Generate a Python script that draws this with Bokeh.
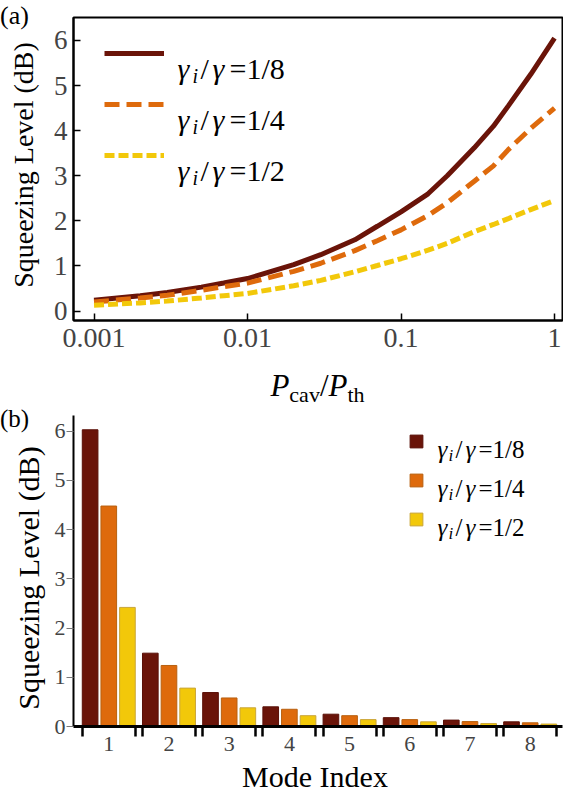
from bokeh.plotting import figure
from bokeh.models import (Range1d, FixedTicker, LinearAxis, Label, Legend, LegendItem,
                          CustomJSTickFormatter, ColumnDataSource, Div)
from bokeh.layouts import column, row
from bokeh.transform import dodge
from bokeh.embed import file_html
from bokeh.resources import INLINE

# ---------------- data ----------------
P_RATIO = [0.001, 0.002, 0.003, 0.005, 0.007, 0.01, 0.02, 0.03, 0.05, 0.07,
           0.1, 0.15, 0.2, 0.3, 0.4, 0.5, 0.7, 1.0]
SQZ_18 = [0.24, 0.34, 0.41, 0.53, 0.62, 0.72, 1.03, 1.25, 1.58, 1.88,
          2.20, 2.60, 3.00, 3.62, 4.10, 4.55, 5.25, 6.05]
SQZ_14 = [0.20, 0.29, 0.35, 0.46, 0.54, 0.62, 0.88, 1.06, 1.34, 1.56,
          1.80, 2.12, 2.40, 2.88, 3.22, 3.58, 4.05, 4.50]
SQZ_12 = [0.13, 0.18, 0.22, 0.29, 0.34, 0.39, 0.56, 0.68, 0.87, 1.01,
          1.16, 1.35, 1.50, 1.76, 1.92, 2.05, 2.25, 2.45]

X_TICKS = [0.001, 0.01, 0.1, 1.0]
X_TICK_LABELS = ["0.001", "0.01", "0.1", "1"]
Y_TICKS = [0, 1, 2, 3, 4, 5, 6]

MODES = [1, 2, 3, 4, 5, 6, 7, 8]
BAR_18 = [6.03, 1.49, 0.69, 0.40, 0.25, 0.18, 0.13, 0.095]
BAR_14 = [4.48, 1.24, 0.58, 0.35, 0.22, 0.14, 0.10, 0.075]
BAR_12 = [2.42, 0.78, 0.38, 0.22, 0.14, 0.095, 0.06, 0.05]

RATIO_LABELS = ["1/8", "1/4", "1/2"]
Y_TITLE = "Squeezing Level (dB)"
X2_TITLE = "Mode Index"

# ---------------- style ----------------
FONT = "'Liberation Serif'"
CSS_FONT = "'Liberation Serif', 'Times New Roman', serif"
C_DARK = "#6A1409"
C_ORANGE = "#DE6A0C"
C_YELLOW = "#F2C80A"
E_DARK = "#5A1008"
E_ORANGE = "#B8600F"
E_YELLOW = "#C9A53A"

W_ALL = 563
W_SIDE = 45
W_FIG = W_ALL - W_SIDE
H_TOP = 360
H_XT = 44
H_BOT = 360
H_MT = 23


def put(p, x, y, text, size, style="normal", align="left", baseline="alphabetic"):
    p.add_layout(Label(x=x, y=y, x_units="screen", y_units="screen", text=text,
                       text_font=FONT, text_font_size=f"{size}px",
                       text_font_style=style, text_align=align,
                       text_baseline=baseline, text_color="black"))


def ratio_label(p, x, y, ratio, size, sub, offs):
    put(p, x + offs[0], y, "\u03b3", size, "italic")
    put(p, x + offs[1], y - 0.24 * size, "i", sub, "italic")
    put(p, x + offs[2], y, "/", size)
    put(p, x + offs[3], y, "\u03b3", size, "italic")
    put(p, x + offs[4], y, "=" + ratio, size)


def span(x, y, inner, size, extra=""):
    return (f'<span style="position:absolute; left:{x}px; top:{y}px; font-size:{size}px; '
            f'line-height:1; white-space:nowrap; {extra}">{inner}</span>')


def box(w, h, inner):
    return Div(text=(f'<div style="position:relative; width:{w}px; height:{h}px; '
                     f'font-family:{CSS_FONT}; color:black;">{inner}</div>'),
               width=w, height=h, margin=0)


# ================= panel (a) =================
p1 = figure(width=W_FIG, height=H_TOP, x_axis_type="log",
            x_range=Range1d(0.000735, 1.127), y_range=Range1d(-0.21, 6.51),
            output_backend="svg", toolbar_location=None,
            min_border_left=28, min_border_right=1, min_border_top=17, min_border_bottom=40)
p1.background_fill_color = "white"
p1.border_fill_color = "white"
p1.grid.visible = False
p1.outline_line_color = "black"
p1.outline_line_width = 2

l18 = p1.line(P_RATIO, SQZ_18, line_color=C_DARK, line_width=5)
l14 = p1.line(P_RATIO, SQZ_14, line_color=C_ORANGE, line_width=5, line_dash="15 7")
l12 = p1.line(P_RATIO, SQZ_12, line_color=C_YELLOW, line_width=5, line_dash="10 4")

xa = p1.xaxis[0]
xa.ticker = FixedTicker(ticks=X_TICKS)
xa.formatter = CustomJSTickFormatter(args=dict(tvals=X_TICKS, tlabels=X_TICK_LABELS), code="""
let best = 0, d = Infinity;
for (let i = 0; i < tvals.length; i++) {
  const e = Math.abs(Math.log10(tick) - Math.log10(tvals[i]));
  if (e < d) { d = e; best = i; }
}
return tlabels[best];
""")
xa.major_tick_in = 7
xa.major_tick_out = 0
xa.major_tick_line_width = 1.5
xa.minor_tick_line_color = None
xa.axis_line_width = 2
xa.major_label_text_font = FONT
xa.major_label_text_font_size = "28px"
xa.major_label_standoff = 8

ya = p1.yaxis[0]
ya.ticker = FixedTicker(ticks=Y_TICKS)
ya.major_tick_in = 7
ya.major_tick_out = 0
ya.major_tick_line_width = 1.5
ya.minor_tick_line_color = None
ya.axis_line_width = 2
ya.major_label_text_font = FONT
ya.major_label_text_font_size = "27px"
ya.major_label_standoff = 6

leg1 = Legend(items=[LegendItem(label=" ", renderers=[l18]),
                     LegendItem(label=" ", renderers=[l14]),
                     LegendItem(label=" ", renderers=[l12])],
              location=(31, 155), orientation="vertical",
              glyph_width=60, glyph_height=20, label_height=20, label_width=0,
              spacing=31, padding=0, margin=0, label_standoff=0,
              border_line_color=None, background_fill_alpha=0,
              label_text_font_size="1px")
p1.add_layout(leg1)

for k, r in enumerate(RATIO_LABELS):
    ratio_label(p1, 104, 252 - 51 * k, r, 30, 20, [0, 15, 23, 35, 52])

div_a = box(W_SIDE, H_TOP,
            span(0, 3, "(a)", 26) +
            span(24, 165, Y_TITLE, 28, "transform: translate(-50%, -50%) rotate(-90deg);"))

sub_css = "font-size:22px; position:relative; top:6px;"
xt_inner = (f'<i>P</i><span style="{sub_css}">cav</span>/'
            f'<i>P</i><span style="{sub_css}">th</span>')
div_x = box(W_ALL, H_XT, span(317.5, 10, xt_inner, 31, "transform: translateX(-50%);"))

# ================= panel (b) =================
p2 = figure(width=W_FIG, height=H_BOT,
            x_range=Range1d(0.414, 8.537), y_range=Range1d(0, 6.32),
            output_backend="svg", toolbar_location=None,
            min_border_left=28, min_border_right=1, min_border_top=11, min_border_bottom=38)
p2.background_fill_color = "white"
p2.border_fill_color = "white"
p2.grid.visible = False
p2.outline_line_color = None

src = ColumnDataSource(dict(mode=MODES, r18=BAR_18, r14=BAR_14, r12=BAR_12))
b18 = p2.vbar(x=dodge("mode", -0.31), top="r18", width=0.26, source=src,
              fill_color=C_DARK, line_color=E_DARK, line_width=1)
b14 = p2.vbar(x=dodge("mode", 0.0), top="r14", width=0.26, source=src,
              fill_color=C_ORANGE, line_color=E_ORANGE, line_width=1)
b12 = p2.vbar(x=dodge("mode", 0.31), top="r12", width=0.26, source=src,
              fill_color=C_YELLOW, line_color=E_YELLOW, line_width=1)

edges = sorted([m - 0.44 for m in MODES] + [m + 0.44 for m in MODES])
xb = p2.xaxis[0]
xb.ticker = FixedTicker(ticks=edges)
xb.major_tick_in = 0
xb.major_tick_out = 10
xb.major_tick_line_width = 2.5
xb.minor_tick_line_color = None
xb.axis_line_width = 3
xb.major_label_text_font_size = "1px"
xb.major_label_text_alpha = 0
xb.major_label_standoff = 0

xl = LinearAxis(ticker=FixedTicker(ticks=MODES), axis_line_color=None,
                major_tick_line_color=None, minor_tick_line_color=None,
                major_tick_in=0, major_tick_out=0, major_label_standoff=0,
                major_label_text_font=FONT, major_label_text_font_size="22px")
p2.add_layout(xl, "below")

yb = p2.yaxis[0]
yb.ticker = FixedTicker(ticks=Y_TICKS)
yb.major_tick_in = 0
yb.major_tick_out = 7
yb.major_tick_line_color = "#777777"
yb.major_tick_line_width = 1
yb.minor_tick_line_color = None
yb.axis_line_width = 2
yb.major_label_text_font = FONT
yb.major_label_text_font_size = "22px"
yb.major_label_standoff = 1

leg2 = Legend(items=[LegendItem(label=" ", renderers=[b18]),
                     LegendItem(label=" ", renderers=[b14]),
                     LegendItem(label=" ", renderers=[b12])],
              location=(334.5, 199.5), orientation="vertical",
              glyph_width=16, glyph_height=16, label_height=16, label_width=0,
              spacing=23, padding=0, margin=0, label_standoff=0,
              border_line_color=None, background_fill_alpha=0,
              label_text_font_size="1px")
p2.add_layout(leg2)

for k, r in enumerate(RATIO_LABELS):
    ratio_label(p2, 364, 277 - 39 * k, r, 25, 17, [0, 11, 18, 28, 41])

div_b = box(W_SIDE, H_BOT,
            span(0, 2, "(b)", 25) +
            span(29, 173.5, Y_TITLE, 30, "transform: translate(-50%, -50%) rotate(-90deg);"))

div_m = box(W_ALL, H_MT, span(315, -2, X2_TITLE, 30, "transform: translateX(-50%);"))

layout = column(row(div_a, p1), div_x, row(div_b, p2), div_m)
open("out.html", "w").write(file_html(layout, INLINE))
